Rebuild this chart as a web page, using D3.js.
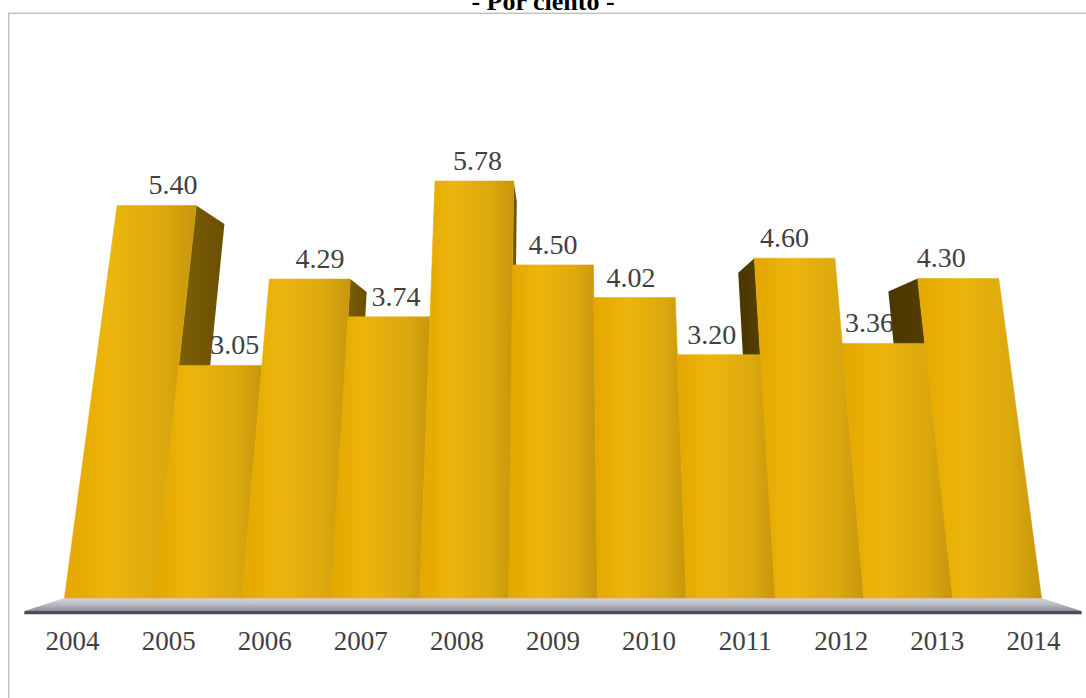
<!DOCTYPE html>
<html>
<head>
<meta charset="utf-8">
<script src="https://cdn.jsdelivr.net/npm/d3@7"></script>
<style>
  html, body { margin: 0; padding: 0; background: #ffffff; }
  svg { display: block; }
  text { font-family: "Liberation Serif", "Times New Roman", serif; }
</style>
</head>
<body>
<svg id="chart" width="1086" height="698"></svg>
<script>
// ---- data ----
const years  = ["2004", "2005", "2006", "2007", "2008", "2009", "2010", "2011", "2012", "2013", "2014"];
const values = [5.40, 3.05, 4.29, 3.74, 5.78, 4.50, 4.02, 3.20, 4.60, 3.36, 4.30];
const valueLabels = values.map(v => v.toFixed(2));
const titleText = "- Por ciento -";

// ---- scene geometry (world units) ----
const W = 1086, H = 698;
const barDepth = 54;      // depth of each column
const floorFront = -42.6; // floor edge in front of the columns
const floorThick = 3;

// category -> world X, value -> world height
const x = d3.scaleBand().domain(years).range([-488.5, 488.5]).padding(0);
const y = d3.scaleLinear().domain([0, 6]).range([0, 6 * 76.9]);

// perspective camera, tilted slightly upward
const cam = { cx: 553, cy: 349, F: 556.1, pitch: Math.atan(0.16365), Yc: 155.9, D: 589 };
const sinP = Math.sin(cam.pitch), cosP = Math.cos(cam.pitch);
function project(X, Y, Z) {
  const dy = Y - cam.Yc, dz = Z + cam.D;
  const yc = dy * cosP - dz * sinP;
  const zc = dy * sinP + dz * cosP;
  return [cam.cx + cam.F * X / zc, cam.cy - cam.F * yc / zc];
}
const poly = pts => pts.map(p => project(...p).map(n => n.toFixed(2)).join(",")).join(" ");

const svg = d3.select("#chart");
const defs = svg.append("defs");

function linGrad(id, stops, x2 = 1, y2 = 0) {
  const g = defs.append("linearGradient").attr("id", id)
    .attr("x1", 0).attr("y1", 0).attr("x2", x2).attr("y2", y2);
  stops.forEach(([o, c]) => g.append("stop").attr("offset", o).attr("stop-color", c));
}
linGrad("frontFace", [[0, "#E4A700"], [0.35, "#ECB50C"], [0.75, "#DCA90E"], [1, "#C6970C"]]);
linGrad("sideRight", [[0, "#88680A"], [1, "#6A4F00"]]);
linGrad("sideLeft",  [[0, "#4A3600"], [1, "#5C4402"]]);
linGrad("floorTop",  [[0, "#d4d4d6"], [0.45, "#bdbdc6"], [1, "#8e8ea0"]], 0, 1);

// chart frame
svg.append("rect")
  .attr("x", 8.7).attr("y", 13.3)
  .attr("width", W + 10).attr("height", H + 10)
  .attr("fill", "none").attr("stroke", "#c0c0c0").attr("stroke-width", 1.4);

// title
svg.append("text")
  .attr("x", 543).attr("y", 10)
  .attr("text-anchor", "middle")
  .attr("font-size", 26).attr("font-weight", "bold")
  .attr("fill", "#000")
  .text(titleText);

// floor
const X0 = x.range()[0], X1 = x.range()[1];
svg.append("polygon")
  .attr("points", poly([[X0, 0, floorFront], [X1, 0, floorFront], [X1, 0, 0], [X0, 0, 0]]))
  .attr("fill", "url(#floorTop)");
svg.append("polygon")
  .attr("points", poly([[X0, 0, floorFront], [X1, 0, floorFront], [X1, -floorThick, floorFront], [X0, -floorThick, floorFront]]))
  .attr("fill", "#4d4d5c");

// side faces that turn toward the camera
const bars = years.map((yr, i) => ({
  year: yr, value: values[i], label: valueLabels[i],
  x0: x(yr), x1: x(yr) + x.bandwidth(), h: y(values[i])
}));
const sides = [];
bars.forEach((b, i) => {
  if (b.x1 < 0 && i < bars.length - 1 && bars[i + 1].h < b.h)
    sides.push({ xs: b.x1, lo: bars[i + 1].h, hi: b.h, fill: "url(#sideRight)" });
  if (b.x0 > 0 && i > 0 && bars[i - 1].h < b.h)
    sides.push({ xs: b.x0, lo: bars[i - 1].h, hi: b.h, fill: "url(#sideLeft)" });
});
svg.append("g").selectAll("polygon").data(sides).join("polygon")
  .attr("points", d => poly([[d.xs, 0, 0], [d.xs, d.hi, 0], [d.xs, d.hi, barDepth], [d.xs, 0, barDepth]]))
  .attr("fill", d => d.fill);

// front faces
svg.append("g").selectAll("polygon").data(bars).join("polygon")
  .attr("points", d => poly([[d.x0, 0, 0], [d.x1, 0, 0], [d.x1, d.h, 0], [d.x0, d.h, 0]]))
  .attr("fill", "url(#frontFace)")
  .attr("stroke", "url(#frontFace)").attr("stroke-width", 0.6);

// value labels
svg.append("g").selectAll("text").data(bars).join("text")
  .attr("x", d => project((d.x0 + d.x1) / 2, d.h, barDepth / 2)[0])
  .attr("y", d => project((d.x0 + d.x1) / 2, d.h, 0)[1] - 11)
  .attr("text-anchor", "middle")
  .attr("font-size", 28)
  .attr("fill", "#404040")
  .text(d => d.label);

// category axis labels along the floor edge
svg.append("g").selectAll("text").data(years).join("text")
  .attr("x", d => project(x(d) + x.bandwidth() / 2, 0, floorFront)[0])
  .attr("y", d => project(x(d) + x.bandwidth() / 2, 0, floorFront)[1] + 39)
  .attr("text-anchor", "middle")
  .attr("font-size", 27)
  .attr("fill", "#404040")
  .text(d => d);
</script>
</body>
</html>
